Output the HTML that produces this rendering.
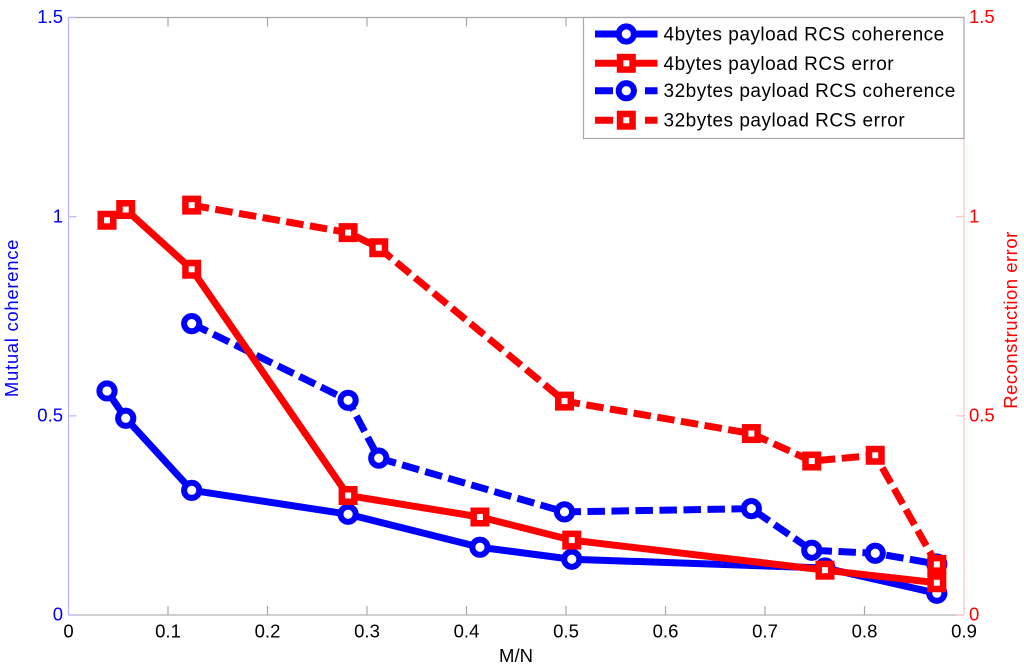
<!DOCTYPE html>
<html lang="en">
<head>
<meta charset="utf-8">
<title>Mutual coherence and reconstruction error</title>
<style>
html,body{margin:0;padding:0;background:#fff;}
svg{display:block;font-family:"Liberation Sans",Arial,sans-serif;}
</style>
</head>
<body>
<svg id="chart" xmlns="http://www.w3.org/2000/svg" width="1024" height="671" viewBox="0 0 1024 671">
<rect x="0" y="0" width="1024" height="671" fill="#fff"/>
<g id="axes"></g>
<g id="series"></g>
<g id="legend"></g>
<text x="516" y="662" font-size="18.5" text-anchor="middle" fill="#000">M/N</text>
<text transform="translate(18 318) rotate(-90)" font-size="18.5" letter-spacing="0.7" text-anchor="middle" fill="#0000ff">Mutual coherence</text>
<text transform="translate(1017 320) rotate(-90)" font-size="18.5" letter-spacing="0.5" text-anchor="middle" fill="#ff0000">Reconstruction error</text>
</svg>
<script>
const xTicks = [0, 0.1, 0.2, 0.3, 0.4, 0.5, 0.6, 0.7, 0.8, 0.9];
const xTickLabels = ['0', '0.1', '0.2', '0.3', '0.4', '0.5', '0.6', '0.7', '0.8', '0.9'];
const yTicks = [0, 0.5, 1, 1.5];
const yTickLabels = ['0', '0.5', '1', '1.5'];

const coh4X = [0.0387, 0.0575, 0.1238, 0.2810, 0.4135, 0.5058, 0.7603, 0.8727];
const coh4Y = [0.5625, 0.4940, 0.3130, 0.2530, 0.1700, 0.1400, 0.1180, 0.0545];
const err4X = [0.0387, 0.0575, 0.1238, 0.2810, 0.4135, 0.5058, 0.7603, 0.8727];
const err4Y = [0.9910, 1.0180, 0.8680, 0.3000, 0.2460, 0.1880, 0.1125, 0.0810];
const coh32X = [0.1238, 0.2810, 0.3118, 0.4985, 0.6863, 0.7470, 0.8108, 0.8727];
const coh32Y = [0.7315, 0.5390, 0.3938, 0.2588, 0.2670, 0.1625, 0.1550, 0.1280];
const err32X = [0.1238, 0.2810, 0.3118, 0.4985, 0.6863, 0.7470, 0.8108, 0.8727];
const err32Y = [1.0290, 0.9600, 0.9220, 0.5370, 0.4555, 0.3865, 0.4010, 0.1270];

const legendLabels = ['4bytes payload RCS coherence', '4bytes payload RCS error', '32bytes payload RCS coherence', '32bytes payload RCS error'];

const NS = 'http://www.w3.org/2000/svg';
const plotLeft = 68.5, plotRight = 964, plotTop = 17.5, plotBottom = 615;
const xMax = 0.9, yMax = 1.5;
const BLUE = '#0000ff', RED = '#ff0000';
const DASH = '17.5 6.5';

function sx(v) { return plotLeft + (v / xMax) * (plotRight - plotLeft); }
function sy(v) { return plotBottom - (v / yMax) * (plotBottom - plotTop); }

function make(tag, parent, attrs) {
  const el = document.createElementNS(NS, tag);
  for (const k in attrs) el.setAttribute(k, attrs[k]);
  parent.appendChild(el);
  return el;
}

const axes = document.getElementById('axes');
const seriesLayer = document.getElementById('series');
const legend = document.getElementById('legend');

function axisLine(name, x1, y1, x2, y2, color) {
  const el = make('line', axes, { x1: x1, y1: y1, x2: x2, y2: y2, stroke: color, 'stroke-width': 1.2 });
  
  
}

axisLine('top-axis-line', plotLeft, plotTop, plotRight, plotTop, '#a8a8a8');
axisLine('bottom-axis-line', plotLeft, plotBottom, plotRight, plotBottom, '#b4b4b4');
axisLine('left-axis-line', plotLeft, plotTop, plotLeft, plotBottom, '#b4b4ff');
axisLine('right-axis-line', plotRight, plotTop, plotRight, plotBottom, '#ffc4c4');

xTicks.forEach(function (t, i) {
  if (i > 0 && i < xTicks.length - 1) {
    axisLine('x-tick-bottom', sx(t), plotBottom, sx(t), plotBottom - 9, '#a8a8a8');
    axisLine('x-tick-top', sx(t), plotTop, sx(t), plotTop + 9, '#a8a8a8');
  }
  const label = make('text', axes, { x: sx(t), y: 637.5, 'font-size': 18.5, 'text-anchor': 'middle', fill: '#000' });
  
  
  label.textContent = xTickLabels[i];
});

yTicks.forEach(function (t, i) {
  axisLine('left-y-tick', plotLeft, sy(t), plotLeft + 8, sy(t), '#b4b4ff');
  axisLine('right-y-tick', plotRight, sy(t), plotRight - 8, sy(t), '#ffc4c4');
  const left = make('text', axes, { x: 63, y: sy(t) + 5.7, 'font-size': 18.5, 'text-anchor': 'end', fill: BLUE });
  
  
  left.textContent = yTickLabels[i];
  const right = make('text', axes, { x: 969, y: sy(t) + 5.7, 'font-size': 18.5, 'text-anchor': 'start', fill: RED });
  
  
  right.textContent = yTickLabels[i];
});

function drawMarker(parent, kind, color, cx, cy) {
  let m;
  if (kind === 'circle') {
    m = make('circle', parent, { cx: cx, cy: cy, r: 7.6, fill: '#fff', stroke: color, 'stroke-width': 6 });
    
  } else {
    m = make('rect', parent, { x: cx - 6.25, y: cy - 6.25, width: 12.5, height: 12.5, fill: '#fff', stroke: color, 'stroke-width': 6.5 });
    
  }
  
}

function drawSeries(name, xs, ys, color, dashed, kind) {
  const g = make('g', seriesLayer, {});
  
  
  const pts = xs.map(function (x, i) { return sx(x) + ',' + sy(ys[i]); }).join(' ');
  const line = make('polyline', g, { points: pts, fill: 'none', stroke: color, 'stroke-width': 7, 'stroke-linejoin': 'round' });
  if (dashed) line.setAttribute('stroke-dasharray', DASH);
  
  
  xs.forEach(function (x, i) { drawMarker(g, kind, color, sx(x), sy(ys[i])); });
}

drawSeries('coherence-4bytes', coh4X, coh4Y, BLUE, false, 'circle');
drawSeries('coherence-32bytes', coh32X, coh32Y, BLUE, true, 'circle');
drawSeries('error-4bytes', err4X, err4Y, RED, false, 'square');
drawSeries('error-32bytes', err32X, err32Y, RED, true, 'square');

const legendBox = make('rect', legend, { x: 583.5, y: 17.5, width: 380.5, height: 121, fill: '#fff', stroke: '#a8a8a8', 'stroke-width': 1.2 });



const legendColors = [BLUE, RED, BLUE, RED];
const legendKinds = ['circle', 'square', 'circle', 'square'];
const legendDashed = [false, false, true, true];
const legendRows = [34, 63.3, 90.7, 120.2];

legendLabels.forEach(function (text, i) {
  const g = make('g', legend, {});
  
  
  const y = legendRows[i];
  const line = make('line', g, { x1: 595, y1: y, x2: 657.5, y2: y, stroke: legendColors[i], 'stroke-width': 7 });
  if (legendDashed[i]) line.setAttribute('stroke-dasharray', '18 32 12.5');
  
  
  drawMarker(g, legendKinds[i], legendColors[i], 626.3, y);
  const label = make('text', g, { x: 663.5, y: y + 6.5, 'font-size': 19, 'letter-spacing': 0.5, fill: '#000' });
  
  
  label.textContent = text;
});
</script>
</body>
</html>
